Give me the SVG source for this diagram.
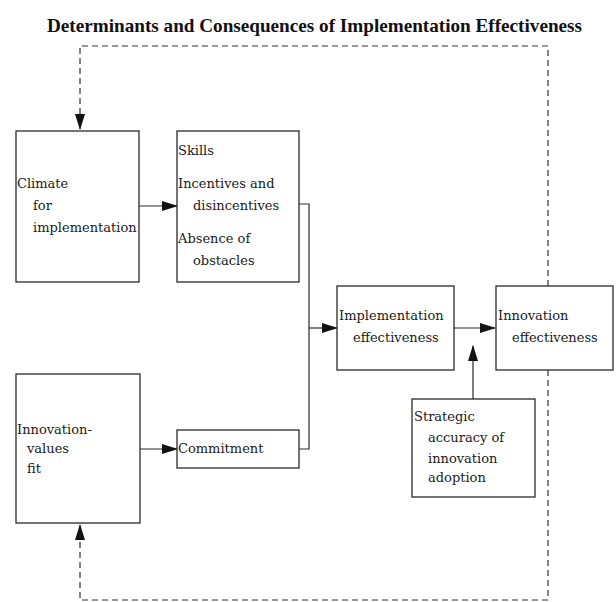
<svg xmlns="http://www.w3.org/2000/svg" width="616" height="602" viewBox="0 0 616 602">
<style>
.box{fill:#fff;stroke:#2a2a2a;stroke-width:1.3}
.t{font-family:"DejaVu Serif","Liberation Serif",serif;font-size:13px;fill:#1a1a1a}
.title{font-family:"Liberation Serif","DejaVu Serif",serif;font-size:19px;font-weight:bold;fill:#111}
.ln{fill:none;stroke:#2a2a2a;stroke-width:1.2}
.dash{fill:none;stroke:#333;stroke-width:1.2;stroke-dasharray:6,4}
</style>
<defs>
<marker id="ah" markerUnits="userSpaceOnUse" markerWidth="16" markerHeight="10" refX="15" refY="5" orient="auto">
<path d="M0,0 L16,5 L0,10 Z" fill="#111"/>
</marker>
</defs>
<rect width="616" height="602" fill="#fff"/>
<text class="title" x="47" y="32" textLength="535" lengthAdjust="spacingAndGlyphs">Determinants and Consequences of Implementation Effectiveness</text>

<g id="connectors">
<line class="ln" x1="139" y1="206" x2="177" y2="206" marker-end="url(#ah)"/>
<line class="ln" x1="140" y1="449" x2="177" y2="449" marker-end="url(#ah)"/>
<polyline class="ln" points="299,204 309,204 309,449 299,449"/>
<line class="ln" x1="309" y1="328" x2="337" y2="328" marker-end="url(#ah)"/>
<line class="ln" x1="454" y1="328" x2="495" y2="328" marker-end="url(#ah)"/>
<line class="ln" x1="473" y1="399" x2="473" y2="346" marker-end="url(#ah)"/>
<polyline class="dash" points="548,286 548,46 80,46 80,129" marker-end="url(#ah)"/>
<polyline class="dash" points="548,370 548,600 80,600 80,525" marker-end="url(#ah)"/>
</g>

<g id="climate">
<rect class="box" x="16" y="131" width="123" height="151"/>
<text class="t" x="17" y="188">Climate</text>
<text class="t" x="33" y="210">for</text>
<text class="t" x="33" y="232">implementation</text>
</g>

<g id="skills">
<rect class="box" x="177" y="131" width="122" height="151"/>
<text class="t" x="178" y="155">Skills</text>
<text class="t" x="178" y="188">Incentives and</text>
<text class="t" x="193" y="210">disincentives</text>
<text class="t" x="178" y="243">Absence of</text>
<text class="t" x="193" y="265">obstacles</text>
</g>

<g id="innovation-values-fit">
<rect class="box" x="16" y="374" width="124" height="149"/>
<text class="t" x="17" y="434">Innovation-</text>
<text class="t" x="27" y="453">values</text>
<text class="t" x="27" y="473">fit</text>
</g>

<g id="commitment">
<rect class="box" x="177" y="430" width="122" height="38"/>
<text class="t" x="178" y="453">Commitment</text>
</g>

<g id="implementation-effectiveness">
<rect class="box" x="337" y="286" width="117" height="84"/>
<text class="t" x="339" y="320">Implementation</text>
<text class="t" x="353" y="342">effectiveness</text>
</g>

<g id="innovation-effectiveness">
<rect class="box" x="496" y="286" width="117" height="84"/>
<text class="t" x="498" y="320">Innovation</text>
<text class="t" x="512" y="342">effectiveness</text>
</g>

<g id="strategic-accuracy">
<rect class="box" x="412" y="399" width="123" height="98"/>
<text class="t" x="414" y="421">Strategic</text>
<text class="t" x="428" y="442">accuracy of</text>
<text class="t" x="428" y="463">innovation</text>
<text class="t" x="428" y="482">adoption</text>
</g>
</svg>
